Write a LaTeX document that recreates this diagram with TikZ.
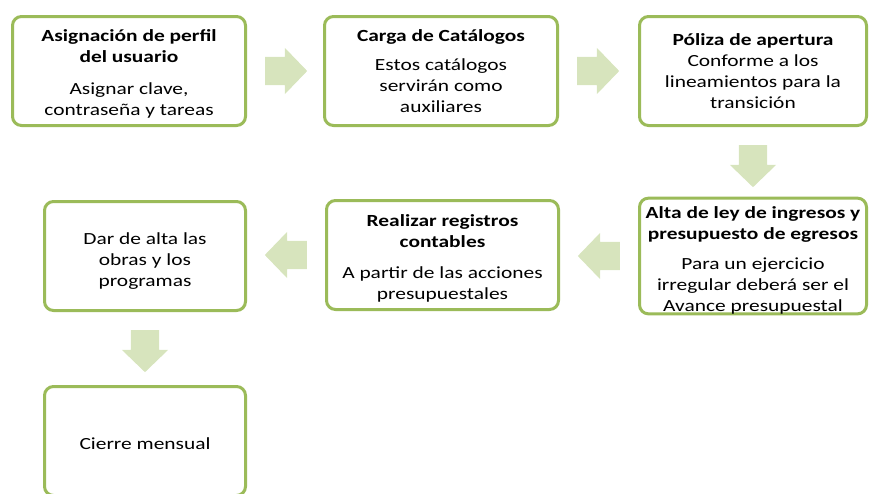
\documentclass[tikz,border=0pt]{standalone}
\usepackage{fontspec}
\setmainfont{Carlito}[FakeStretch=1.26]
\usetikzlibrary{shapes.arrows,calc}

\definecolor{boxgreen}{RGB}{155,187,89}
\definecolor{arrowgreen}{RGB}{215,228,189}

\newcommand{\padtop}[1]{\rule{0pt}{#1}}

\tikzset{
  stepbox/.style={draw=boxgreen, line width=3pt, rounded corners=9pt, fill=white,
    align=center, inner sep=0pt, minimum height=109pt,
    font=\fontsize{17}{21}\selectfont},
  flowarrow/.style={single arrow, fill=arrowgreen, draw=none, anchor=tail,
    inner xsep=0pt, inner ysep=14pt, minimum height=42pt,
    single arrow head extend=9pt, single arrow tip angle=92},
}

\begin{document}
\begin{tikzpicture}[x=1pt,y=-1pt]

  \useasboundingbox (0,0) rectangle (870,493);

  \node[stepbox, minimum width=233pt] (perfil) at (129,71)
    {\padtop{18.5pt}\textbf{Asignación de perfil}\\\textbf{del usuario}\\[11pt]Asignar clave,\\contraseña y tareas};

  \node[stepbox, minimum width=233pt] (catalogos) at (441,71)
    {\textbf{Carga de Catálogos}\\[8pt]Estos catálogos\\servirán como\\auxiliares};

  \node[stepbox, minimum width=227pt] (poliza) at (753,71)
    {\textbf{Póliza de apertura}\\Conforme a los\\lineamientos para la\\transición};

  \node[stepbox, minimum width=227pt] (ley) at (753,256)
    {\padtop{20pt}\textbf{Alta de ley de ingresos y}\\\textbf{presupuesto de egresos}\\[9pt]Para un ejercicio\\irregular deberá ser el\\Avance presupuestal};

  \node[stepbox, minimum width=232pt] (registros) at (442.5,255)
    {\padtop{18.5pt}\textbf{Realizar registros}\\\textbf{contables}\\[10pt]A partir de las acciones\\presupuestales};

  \node[stepbox, minimum width=201pt] (obras) at (145,256)
    {\padtop{22pt}Dar de alta las\\obras y los\\programas};

  \node[stepbox, minimum width=201pt] (cierre) at (145,441)
    {\padtop{18pt}Cierre mensual};

  \node[flowarrow] (a1) at ($(perfil.east)+(18,0)$) {};
  \node[flowarrow] (a2) at ($(catalogos.east)+(18,0)$) {};
  \node[flowarrow, rotate=-90] (a3) at ($(poliza.south)+(0,18)$) {};
  \node[flowarrow, rotate=180] (a4) at ($(ley.west)+(-18,0)$) {};
  \node[flowarrow, rotate=180] (a5) at ($(registros.west)+(-18,0)$) {};
  \node[flowarrow, rotate=-90] (a6) at ($(obras.south)+(0,18)$) {};

\end{tikzpicture}
\end{document}
